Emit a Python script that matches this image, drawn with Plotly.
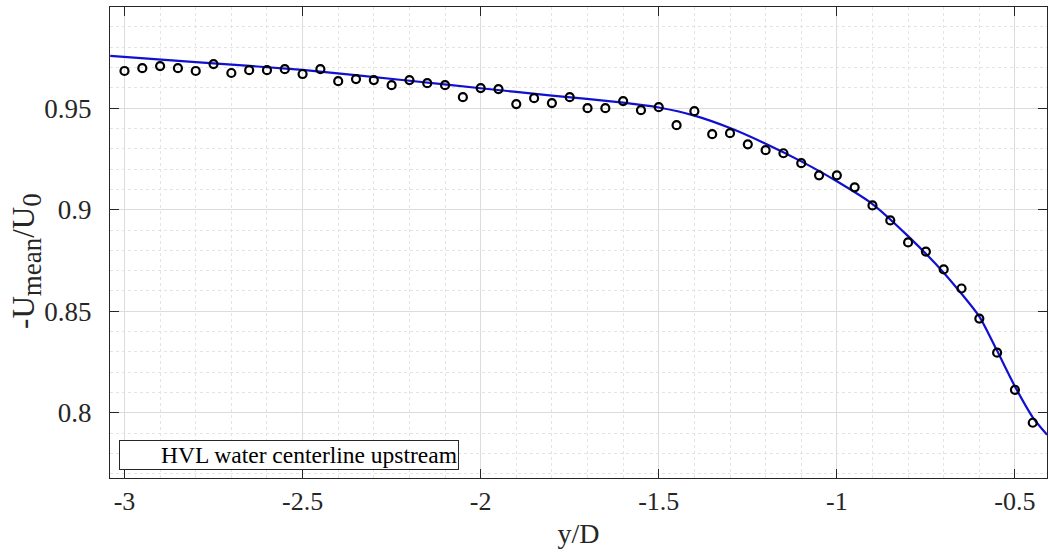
import plotly.graph_objects as go

# measured points
y_d = [-3.0, -2.95, -2.9, -2.85, -2.8, -2.75, -2.7, -2.65, -2.6, -2.55, -2.5, -2.45,
       -2.4, -2.35, -2.3, -2.25, -2.2, -2.15, -2.1, -2.05, -2.0, -1.95, -1.9, -1.85,
       -1.8, -1.75, -1.7, -1.65, -1.6, -1.55, -1.5, -1.45, -1.4, -1.35, -1.3, -1.25,
       -1.2, -1.15, -1.1, -1.05, -1.0, -0.95, -0.9, -0.85, -0.8, -0.75, -0.7, -0.65,
       -0.6, -0.55, -0.5, -0.45]
u_mean = [0.9683, 0.9697, 0.9707, 0.9697, 0.9683, 0.9717, 0.9673, 0.9687, 0.9687, 0.9692,
          0.9668, 0.9692, 0.9633, 0.9643, 0.9638, 0.9613, 0.9638, 0.9623, 0.9613, 0.9554,
          0.9599, 0.9594, 0.9520, 0.9549, 0.9525, 0.9554, 0.9500, 0.9500, 0.9535, 0.9490,
          0.9505, 0.9416, 0.9485, 0.9372, 0.9377, 0.9322, 0.9293, 0.9278, 0.9229, 0.9169,
          0.9169, 0.9110, 0.9021, 0.8947, 0.8839, 0.8794, 0.8706, 0.8612, 0.8464, 0.8296,
          0.8113, 0.7951]

# fitted curve
fit_x = [-3.04, -2.8, -2.5, -2.2, -2.0, -1.8, -1.6, -1.5, -1.4, -1.3, -1.2, -1.1,
         -1.0, -0.9, -0.8, -0.7, -0.6, -0.55, -0.5, -0.45, -0.41]
fit_y = [0.9757, 0.9727, 0.9688, 0.9635, 0.9598, 0.9562, 0.9527, 0.9503, 0.9463, 0.9402,
         0.9325, 0.9238, 0.9140, 0.9028, 0.8870, 0.8690, 0.8474, 0.8305, 0.8130, 0.7978,
         0.7892]

x_ticks = [-3, -2.5, -2, -1.5, -1, -0.5]
x_tick_labels = ["-3", "-2.5", "-2", "-1.5", "-1", "-0.5"]
y_ticks = [0.8, 0.85, 0.9, 0.95]
y_tick_labels = ["0.8", "0.85", "0.9", "0.95"]
legend_text = "HVL water centerline upstream"
x_title = "y/D"
y_title = ("-U<sub><span style='font-size:27px'>mean</span></sub>"
           "/U<sub><span style='font-size:27px'>0</span></sub>")

FONT = "Liberation Serif, Times New Roman, serif"
AX = "#262626"

fig = go.Figure()
fig.add_trace(go.Scatter(x=fit_x, y=fit_y, mode="lines",
                         line=dict(color="#1010d0", width=2.2, shape="spline", smoothing=0.6),
                         showlegend=False, hoverinfo="skip"))
fig.add_trace(go.Scatter(x=y_d, y=u_mean, mode="markers", name=legend_text,
                         marker=dict(symbol="circle-open", size=8, color="black",
                                     line=dict(width=2.2, color="black")),
                         showlegend=False))

axis_common = dict(showline=True, linecolor=AX, linewidth=1, mirror="ticks", ticks="inside",
                   ticklen=9, tickcolor=AX, tickwidth=1, showgrid=True, gridcolor="#dcdcdc",
                   gridwidth=1, zeroline=False)

fig.update_xaxes(range=[-3.0407, -0.41], tickvals=x_ticks, ticktext=x_tick_labels,
                 tickfont=dict(family=FONT, size=26, color=AX),
                 minor=dict(dtick=0.1, tick0=0, showgrid=True, gridcolor="#e4e4e4",
                            griddash="dot", gridwidth=1),
                 title=dict(text=x_title, font=dict(family=FONT, size=28, color=AX), standoff=8),
                 ticklabelstandoff=0,
                 **axis_common)
fig.update_yaxes(range=[0.7679, 0.9998], tickvals=y_ticks, ticktext=y_tick_labels,
                 tickfont=dict(family=FONT, size=27, color=AX),
                 minor=dict(dtick=0.01, tick0=0, showgrid=True, gridcolor="#e4e4e4",
                            griddash="dot", gridwidth=1),
                 ticklabelstandoff=12,
                 **axis_common)

# y-axis title as a rotated annotation so it can sit close to the tick labels
fig.add_annotation(xref="paper", yref="paper", x=-0.089, y=0.46, xanchor="center", yanchor="middle",
                   text=y_title, textangle=-90, showarrow=False,
                   font=dict(family=FONT, size=31, color=AX))

fig.add_annotation(xref="paper", yref="paper", x=0.0096, y=0.017, xanchor="left", yanchor="bottom",
                   text=legend_text, showarrow=False, align="right", width=336,
                   font=dict(family=FONT, size=23.5, color="black"),
                   bordercolor=AX, borderwidth=1, borderpad=1, bgcolor="white")

fig.update_layout(width=1049, height=555, margin=dict(l=110, r=2, t=7, b=77),
                  font=dict(family=FONT, size=25, color=AX),
                  paper_bgcolor="white", plot_bgcolor="white", showlegend=False)

fig.write_html("out.html")
